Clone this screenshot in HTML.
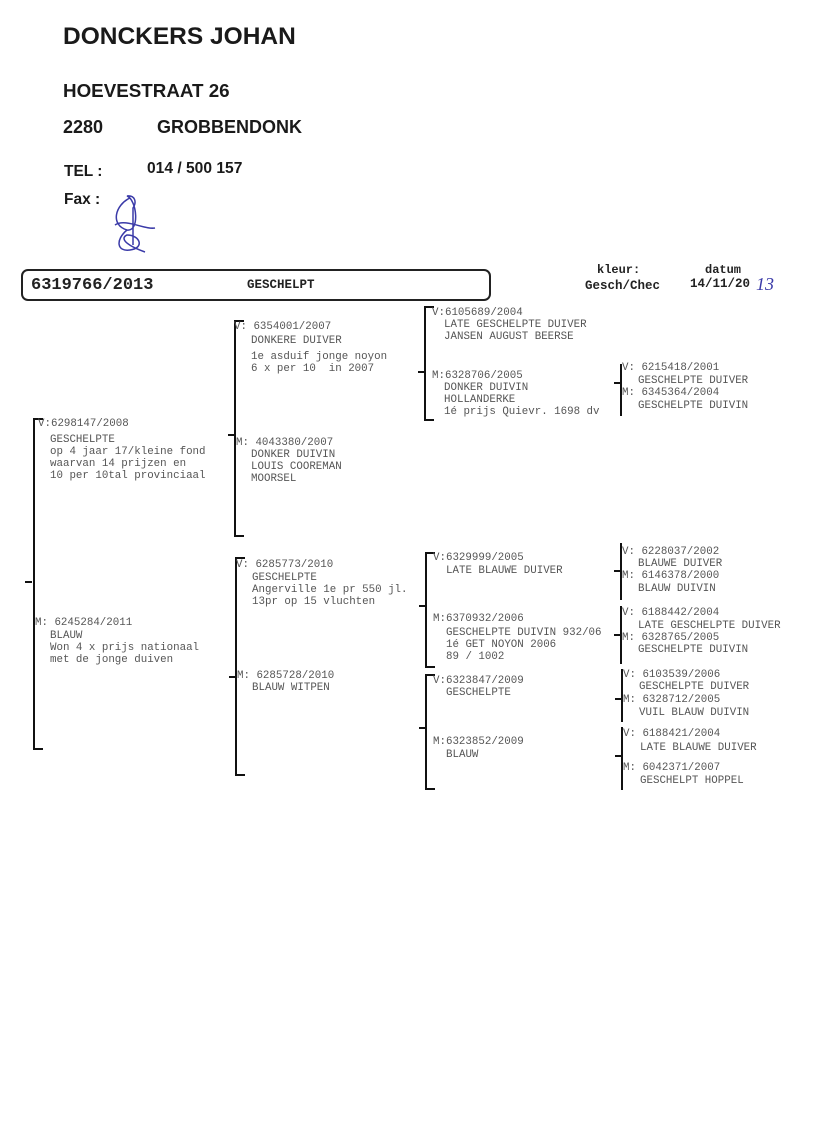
<!DOCTYPE html>
<html><head><meta charset="utf-8"><style>
html,body{margin:0;padding:0;background:#fff;}
body{width:816px;height:1130px;position:relative;overflow:hidden;}
.h{position:absolute;font-family:"Liberation Sans",sans-serif;font-weight:bold;color:#1a1a1a;white-space:pre;}
.t{position:absolute;font-family:"Liberation Mono",monospace;font-size:10.8px;line-height:12px;color:#555;white-space:pre;}
.b{position:absolute;border-left:2px solid #111;border-top:2px solid #111;border-bottom:2px solid #111;width:8px;}
.v{position:absolute;border-left:2px solid #111;}
.k{position:absolute;height:2px;background:#111;width:7px;}
</style></head><body>
<div class="h" style="left:63px;top:23px;font-size:24.5px;">DONCKERS JOHAN</div>
<div class="h" style="left:63px;top:80px;font-size:18.8px;">HOEVESTRAAT 26</div>
<div class="h" style="left:63px;top:117px;font-size:18px;">2280</div>
<div class="h" style="left:157px;top:117px;font-size:18px;">GROBBENDONK</div>
<div class="h" style="left:64px;top:163px;font-size:15.5px;">TEL :</div>
<div class="h" style="left:147px;top:160px;font-size:15.6px;">014 / 500 157</div>
<div class="h" style="left:64px;top:191px;font-size:15.5px;">Fax :</div>
<svg style="position:absolute;left:105px;top:190px" width="60" height="70"><path d="M25 8 C10 15,5 35,22 40 C35 42,32 10,22 6 C30 5,32 12,28 18 L28 55 M10 35 C20 28,40 40,50 38 M22 40 C10 50,12 62,25 60 C40 58,35 45,22 45 C15 48,20 55,40 62" fill="none" stroke="#3a3aa8" stroke-width="1.5"/></svg>

<div style="position:absolute;left:21px;top:269px;width:466px;height:28px;border:2px solid #222;border-radius:7px;"></div>
<div class="t" style="left:31px;top:276px;font-size:17px;line-height:20px;font-weight:bold;color:#222;">6319766/2013</div>
<div class="t" style="left:247px;top:278px;font-size:12.5px;line-height:14px;font-weight:bold;color:#222;">GESCHELPT</div>
<div class="t" style="left:597px;top:263px;font-size:12px;line-height:14px;font-weight:bold;color:#222;">kleur:</div>
<div class="t" style="left:585px;top:279px;font-size:12.5px;line-height:14px;font-weight:bold;color:#222;">Gesch/Chec</div>
<div class="t" style="left:705px;top:263px;font-size:12px;line-height:14px;font-weight:bold;color:#222;">datum</div>
<div class="t" style="left:690px;top:277px;font-size:12.5px;line-height:14px;font-weight:bold;color:#222;">14/11/20</div>
<div class="t" style="left:756px;top:274px;font-family:'Liberation Serif',serif;font-size:18px;line-height:20px;color:#3a3aa8;font-style:italic;">13</div>

<!-- gen1 -->
<div class="b" style="left:33px;top:418px;height:328px;"></div><div class="k" style="left:25px;top:581px;"></div>
<div class="t" style="left:38px;top:418px;">V:6298147/2008</div>
<div class="t" style="left:50px;top:434px;">GESCHELPTE
op 4 jaar 17/kleine fond
waarvan 14 prijzen en
10 per 10tal provinciaal</div>
<div class="t" style="left:35px;top:617px;">M: 6245284/2011</div>
<div class="t" style="left:50px;top:630px;">BLAUW
Won 4 x prijs nationaal
met de jonge duiven</div>

<!-- gen2 -->
<div class="b" style="left:234px;top:320px;height:213px;"></div><div class="k" style="left:228px;top:434px;"></div>
<div class="t" style="left:234px;top:321px;">V: 6354001/2007</div>
<div class="t" style="left:251px;top:335px;">DONKERE DUIVER</div>
<div class="t" style="left:251px;top:351px;">1e asduif jonge noyon
6 x per 10  in 2007</div>
<div class="t" style="left:236px;top:437px;">M: 4043380/2007</div>
<div class="t" style="left:251px;top:449px;">DONKER DUIVIN
LOUIS COOREMAN
MOORSEL</div>

<div class="b" style="left:235px;top:557px;height:215px;"></div><div class="k" style="left:229px;top:676px;"></div>
<div class="t" style="left:236px;top:559px;">V: 6285773/2010</div>
<div class="t" style="left:252px;top:572px;">GESCHELPTE
Angerville 1e pr 550 jl.
13pr op 15 vluchten</div>
<div class="t" style="left:237px;top:670px;">M: 6285728/2010</div>
<div class="t" style="left:252px;top:682px;">BLAUW WITPEN</div>

<!-- gen3 -->
<div class="b" style="left:424px;top:306px;height:111px;"></div><div class="k" style="left:418px;top:371px;"></div>
<div class="t" style="left:432px;top:307px;">V:6105689/2004</div>
<div class="t" style="left:444px;top:319px;">LATE GESCHELPTE DUIVER
JANSEN AUGUST BEERSE</div>
<div class="t" style="left:432px;top:370px;">M:6328706/2005</div>
<div class="t" style="left:444px;top:382px;">DONKER DUIVIN
HOLLANDERKE
1é prijs Quievr. 1698 dv</div>

<div class="b" style="left:425px;top:552px;height:112px;"></div><div class="k" style="left:419px;top:605px;"></div>
<div class="t" style="left:433px;top:552px;">V:6329999/2005</div>
<div class="t" style="left:446px;top:565px;">LATE BLAUWE DUIVER</div>
<div class="t" style="left:433px;top:613px;">M:6370932/2006</div>
<div class="t" style="left:446px;top:627px;">GESCHELPTE DUIVIN 932/06
1é GET NOYON 2006
89 / 1002</div>

<div class="b" style="left:425px;top:674px;height:112px;"></div><div class="k" style="left:419px;top:727px;"></div>
<div class="t" style="left:433px;top:675px;">V:6323847/2009</div>
<div class="t" style="left:446px;top:687px;">GESCHELPTE</div>
<div class="t" style="left:433px;top:736px;">M:6323852/2009</div>
<div class="t" style="left:446px;top:749px;">BLAUW</div>

<!-- gen4 -->
<div class="v" style="left:620px;top:364px;height:52px;"></div><div class="k" style="left:614px;top:382px;"></div>
<div class="t" style="left:622px;top:362px;">V: 6215418/2001</div>
<div class="t" style="left:638px;top:375px;">GESCHELPTE DUIVER</div>
<div class="t" style="left:622px;top:387px;">M: 6345364/2004</div>
<div class="t" style="left:638px;top:400px;">GESCHELPTE DUIVIN</div>

<div class="v" style="left:620px;top:543px;height:57px;"></div><div class="k" style="left:614px;top:570px;"></div>
<div class="t" style="left:622px;top:546px;">V: 6228037/2002</div>
<div class="t" style="left:638px;top:558px;">BLAUWE DUIVER</div>
<div class="t" style="left:622px;top:570px;">M: 6146378/2000</div>
<div class="t" style="left:638px;top:583px;">BLAUW DUIVIN</div>

<div class="v" style="left:620px;top:606px;height:58px;"></div><div class="k" style="left:614px;top:634px;"></div>
<div class="t" style="left:622px;top:607px;">V: 6188442/2004</div>
<div class="t" style="left:638px;top:620px;">LATE GESCHELPTE DUIVER</div>
<div class="t" style="left:622px;top:632px;">M: 6328765/2005</div>
<div class="t" style="left:638px;top:644px;">GESCHELPTE DUIVIN</div>

<div class="v" style="left:621px;top:669px;height:53px;"></div><div class="k" style="left:615px;top:698px;"></div>
<div class="t" style="left:623px;top:669px;">V: 6103539/2006</div>
<div class="t" style="left:639px;top:681px;">GESCHELPTE DUIVER</div>
<div class="t" style="left:623px;top:694px;">M: 6328712/2005</div>
<div class="t" style="left:639px;top:707px;">VUIL BLAUW DUIVIN</div>

<div class="v" style="left:621px;top:727px;height:63px;"></div><div class="k" style="left:615px;top:755px;"></div>
<div class="t" style="left:623px;top:728px;">V: 6188421/2004</div>
<div class="t" style="left:640px;top:742px;">LATE BLAUWE DUIVER</div>
<div class="t" style="left:623px;top:762px;">M: 6042371/2007</div>
<div class="t" style="left:640px;top:775px;">GESCHELPT HOPPEL</div>
</body></html>
